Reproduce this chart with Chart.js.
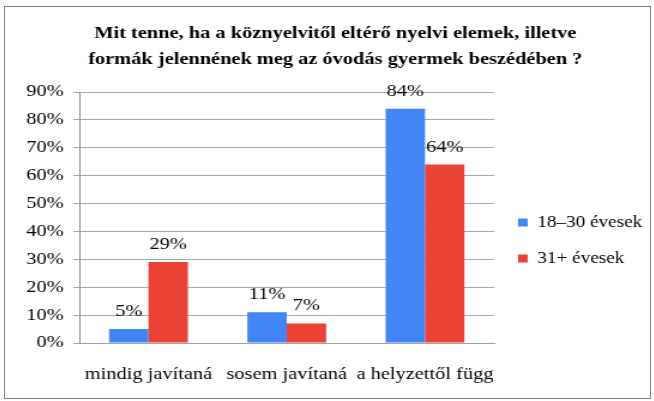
<!DOCTYPE html>
<html>
<head>
<meta charset="utf-8">
<script src="https://cdn.jsdelivr.net/npm/chart.js@4/dist/chart.umd.min.js"></script>
<style>
  html, body { margin: 0; padding: 0; background: #fff; }
  #box { position: absolute; left: 4px; top: 6px; width: 645px; height: 391px; border: 1px solid #7f7f7f; overflow: hidden; }
  #c { display: block; transform: scale(1.19888, 1); transform-origin: 0 0; }
</style>
</head>
<body>
<div id="box"><canvas id="c" width="538" height="391"></canvas></div>
<script>
const categories = ["mindig javítaná", "sosem javítaná", "a helyzettől függ"];
const seriesNames = ["18–30 évesek", "31+ évesek"];
const young = [5, 11, 84];
const older = [29, 7, 64];
const yTickStep = 10;
const yMax = 90;
const titleLines = ["Mit tenne, ha a köznyelvitől eltérő nyelvi elemek, illetve", "formák jelennének meg az óvodás gyermek beszédében ?"];

const SERIF = "'Liberation Serif', 'Times New Roman', serif";

const valueLabels = {
  id: 'valueLabels',
  afterDatasetsDraw(chart) {
    const ctx = chart.ctx;
    ctx.save();
    ctx.font = "17px " + SERIF;
    ctx.fillStyle = "#000";
    ctx.textAlign = "center";
    ctx.textBaseline = "alphabetic";
    chart.data.datasets.forEach((ds, i) => {
      chart.getDatasetMeta(i).data.forEach((bar, j) => {
        ctx.fillText(ds.data[j] + "%", bar.x, bar.y - 13);
      });
    });
    ctx.restore();
  }
};

const nudge = {
  id: 'nudge',
  afterLayout(chart) {
    if (chart.legend) { chart.legend.top += 38; chart.legend.bottom += 38; }
    if (chart.titleBlock) { chart.titleBlock.left += 9; chart.titleBlock.right += 9; }
  }
};

new Chart(document.getElementById('c'), {
  type: 'bar',
  data: {
    labels: categories,
    datasets: [
      { label: seriesNames[0], data: young, backgroundColor: '#4285f4', borderWidth: 0 },
      { label: seriesNames[1], data: older, backgroundColor: '#ea4335', borderWidth: 0 }
    ]
  },
  options: {
    responsive: false,
    animation: false,
    events: [],
    layout: { padding: { left: 0, right: 5, top: 0, bottom: 0 } },
    datasets: { bar: { categoryPercentage: 0.57, barPercentage: 1.0 } },
    plugins: {
      title: {
        display: true,
        text: titleLines,
        color: '#000',
        font: { family: SERIF, size: 17, weight: 'bold', lineHeight: 1.5 },
        padding: { top: 14, bottom: 20 }
      },
      legend: {
        position: 'right',
        maxWidth: 125,
        labels: {
          color: '#000',
          font: { family: SERIF, size: 16 },
          boxWidth: 8,
          boxHeight: 8,
          padding: 20
        }
      },
      tooltip: { enabled: false }
    },
    scales: {
      x: {
        grid: { display: false, drawTicks: false },
        border: { display: true, color: '#a0a0a0' },
        ticks: { color: '#000', font: { family: SERIF, size: 17 }, padding: 21, maxRotation: 0, autoSkip: false },
        afterFit(scale) { scale.height = 55; }
      },
      y: {
        min: 0, max: yMax,
        ticks: { stepSize: yTickStep, color: '#000', font: { family: SERIF, size: 17 }, padding: 8, callback: v => v + '%' },
        grid: { color: '#a8a8a8', tickLength: 5 },
        border: { display: true, color: '#8c8c8c' },
        afterFit(scale) { scale.width = 62; }
      }
    }
  },
  plugins: [valueLabels, nudge]
});
</script>
</body>
</html>
